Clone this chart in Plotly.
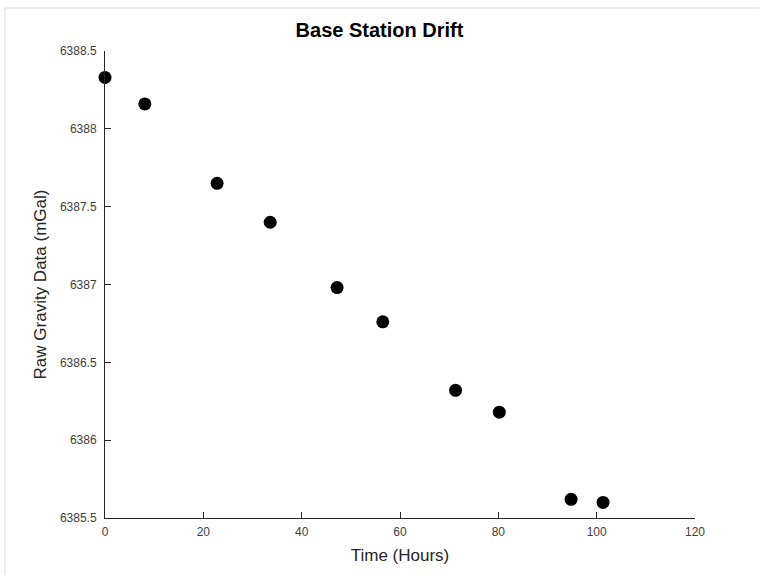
import plotly.graph_objects as go

time_hours = [0, 8.1, 22.8, 33.6, 47.2, 56.5, 71.3, 80.2, 94.8, 101.3]
raw_gravity = [6388.33, 6388.16, 6387.65, 6387.40, 6386.98, 6386.76, 6386.32, 6386.18, 6385.62, 6385.60]

x_ticks = [0, 20, 40, 60, 80, 100, 120]
y_ticks = [6385.5, 6386, 6386.5, 6387, 6387.5, 6388, 6388.5]
y_tick_text = ["6385.5", "6386", "6386.5", "6387", "6387.5", "6388", "6388.5"]

W, H = 759, 575
L, R, T, B = 105, 64, 51, 57
pw, ph = W - L - R, H - T - B

def px(x):
    return (x - L) / pw

def py(y):
    return (H - B - y) / ph

fig = go.Figure()
fig.add_trace(go.Scatter(
    x=time_hours, y=raw_gravity, mode="markers",
    marker=dict(color="black", size=13, line=dict(width=0)),
    cliponaxis=False, showlegend=False,
))

font_family = "Liberation Sans, Arial, sans-serif"
fig.update_layout(
    width=W, height=H,
    margin=dict(l=L, r=R, t=T, b=B),
    paper_bgcolor="white", plot_bgcolor="white",
    title=dict(text="<b>Base Station Drift</b>", x=px(400), xanchor="center",
               y=1 - 30 / H, yanchor="middle",
               font=dict(family=font_family, size=20, color="black")),
    xaxis=dict(range=[0, 120], tickvals=x_ticks, ticks="inside", ticklen=6,
               tickcolor="#262626", showline=True, linecolor="#262626", linewidth=1,
               showgrid=False, zeroline=False, ticklabelstandoff=3,
               tickfont=dict(family=font_family, size=12, color="#404040"),
               title=dict(text="Time (Hours)", standoff=10,
                          font=dict(family=font_family, size=17, color="#262626"))),
    yaxis=dict(range=[6385.5, 6388.5], tickvals=y_ticks, ticktext=y_tick_text,
               ticks="inside", ticklen=6, tickcolor="#262626", showline=True,
               linecolor="#262626", linewidth=1, showgrid=False, zeroline=False,
               ticklabelstandoff=5,
               tickfont=dict(family=font_family, size=12, color="#404040"),
               title=dict(text="Raw Gravity Data (mGal)", standoff=8,
                          font=dict(family=font_family, size=17, color="#262626"))),
    shapes=[
        dict(type="line", xref="paper", yref="paper", x0=px(5), x1=px(759), y0=py(8), y1=py(8),
             line=dict(color="#d9d9d9", width=1)),
        dict(type="line", xref="paper", yref="paper", x0=px(5), x1=px(5), y0=py(8), y1=py(575),
             line=dict(color="#d9d9d9", width=1)),
    ],
)

fig.write_html("out.html")
